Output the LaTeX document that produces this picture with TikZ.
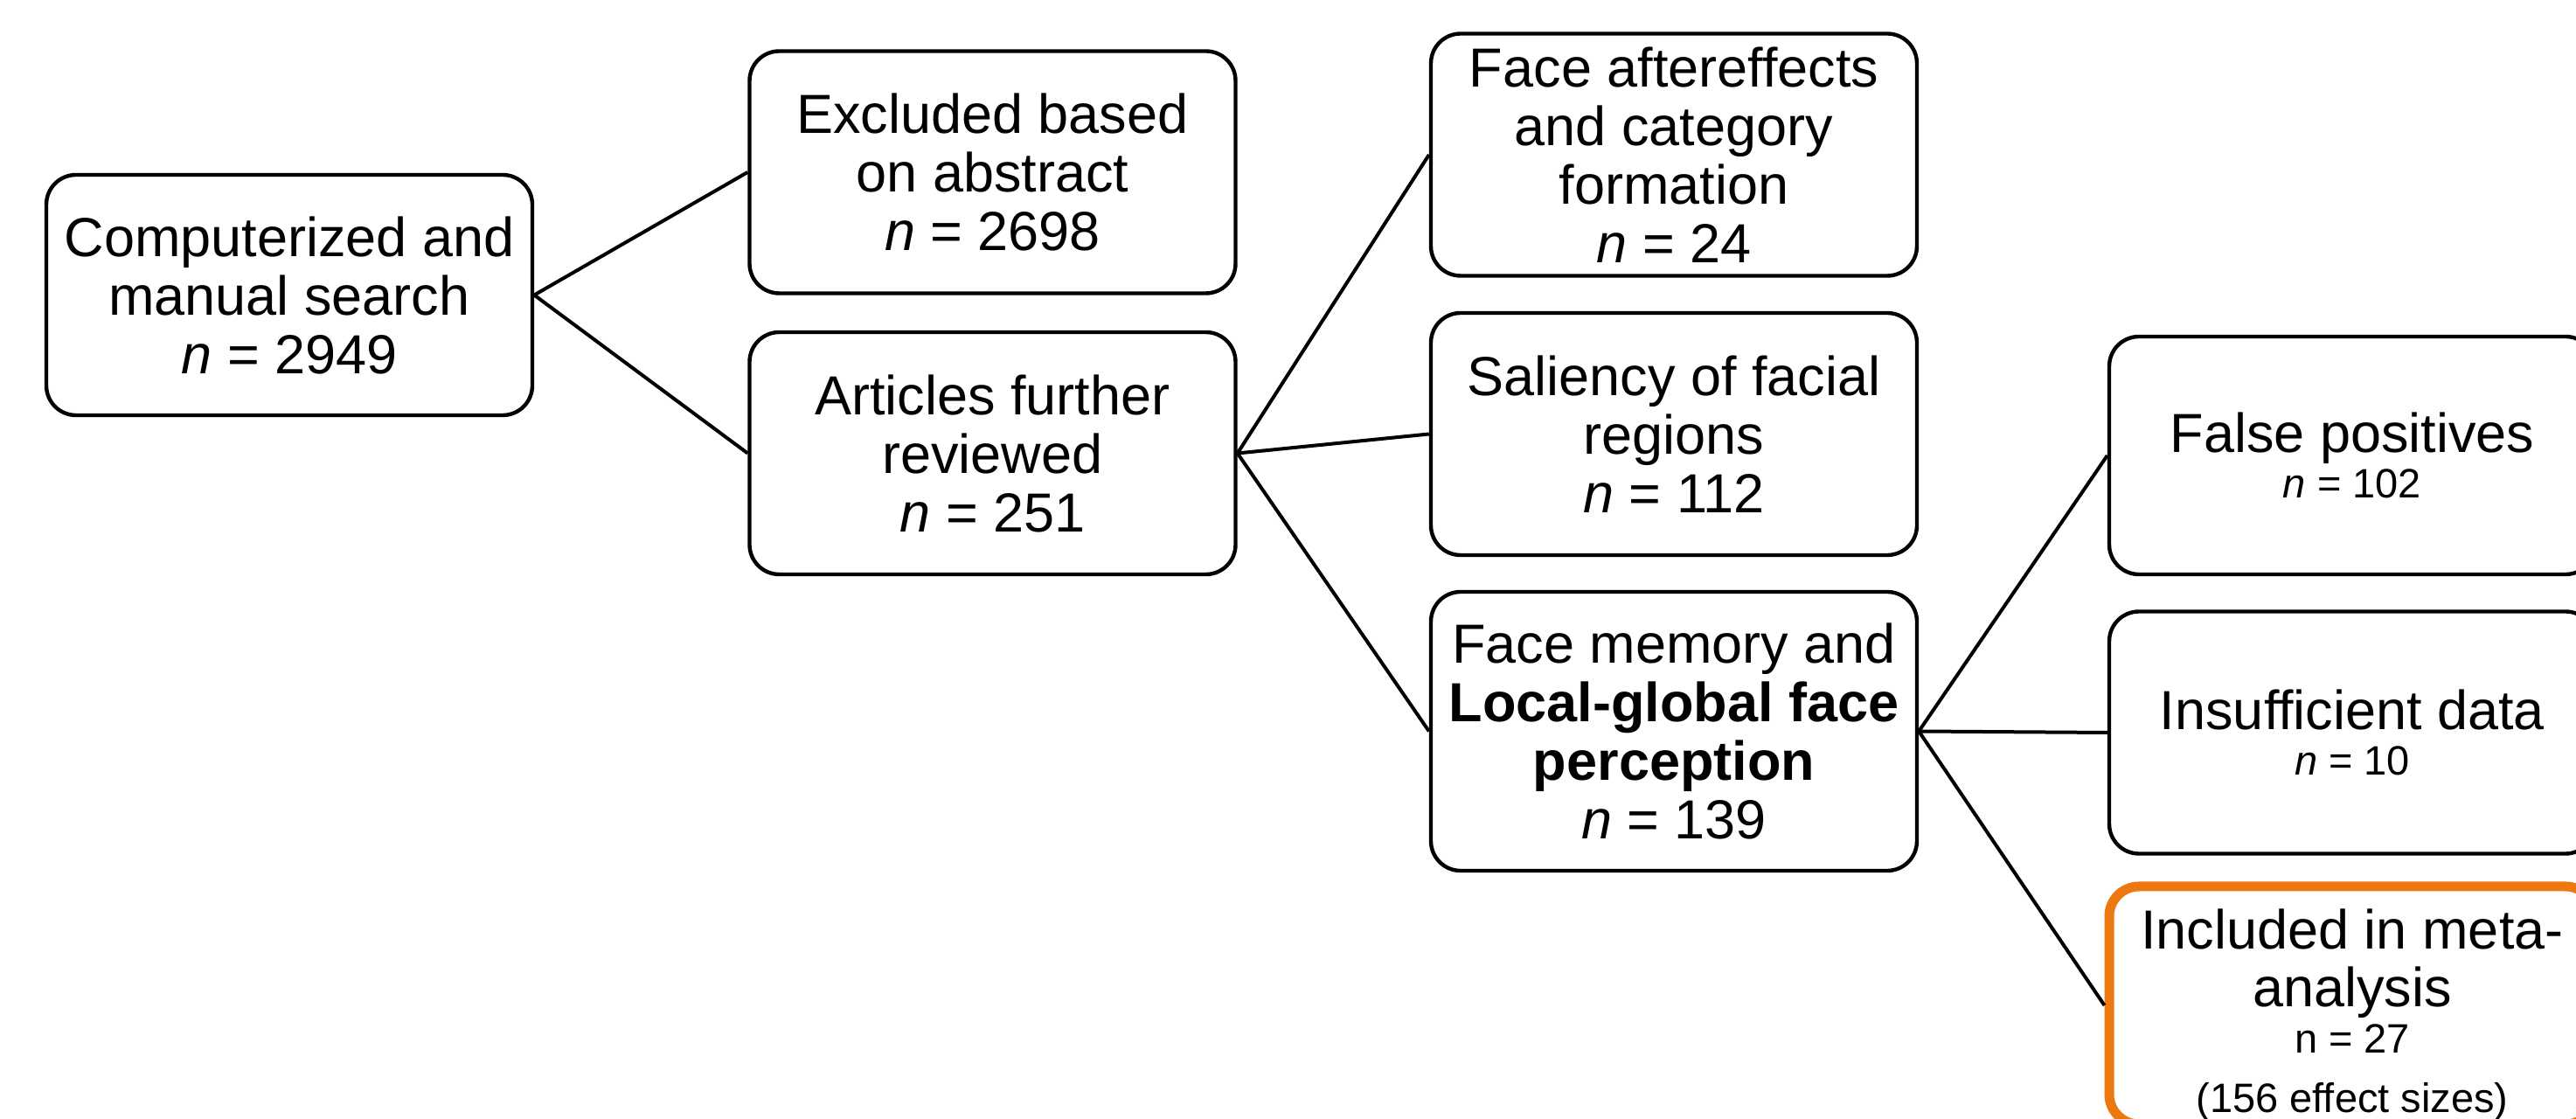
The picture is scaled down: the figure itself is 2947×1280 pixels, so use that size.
\documentclass[tikz,border=0pt]{standalone}
\usepackage{fontspec}
\setmainfont{Liberation Sans}
\definecolor{incl}{RGB}{236,120,15}
\newcommand{\bigf}{\fontsize{15.75}{16.75}\selectfont}
\newcommand{\smallf}{\fontsize{11.75}{13}\selectfont}
\begin{document}
\begin{tikzpicture}[x=0.25pt,y=-0.25pt,
  box/.style={draw=black, line width=1.1pt, rounded corners=8.5pt,
    minimum width=139pt, minimum height=69.25pt, align=center,
    inner sep=0pt, font=\bigf, fill=white},
  tallbox/.style={box, minimum height=79.75pt},
  inclbox/.style={box, draw=incl, line width=2.75pt},
  conn/.style={draw=black, line width=1pt}]
\useasboundingbox (0,0) rectangle (2947,1280);
\clip (0,0) rectangle (2947,1280);
\fill[white] (0,0) rectangle (2947,1280);

\node[box, minimum height=68.75pt] (A) at (331,337.5) {Computerized and\\manual search\\\textit{n} = 2949};
\node[box] (Ex) at (1135.5,197) {Excluded based\\on abstract\\\textit{n} = 2698};
\node[box] (Ar) at (1135.5,518.5) {Articles further\\reviewed\\\textit{n} = 251};
\node[box] (FA) at (1915,177) {Face aftereffects\\and category\\formation\\\textit{n} = 24};
\node[box] (Sa) at (1915,496.5) {Saliency of facial\\regions\\\textit{n} = 112};
\node[tallbox] (FM) at (1915,836.5) {Face memory and\\\textbf{Local-global face}\\\textbf{perception}\\\textit{n} = 139};
\node[box, minimum height=68pt] (FP) at (2691,521) {False positives\\[-3.75pt]{\smallf\textit{n} = 102}};
\node[box] (IN) at (2691,838) {Insufficient data\\[-3.75pt]{\smallf\textit{n} = 10}};
\node[inclbox, minimum height=68pt] (IC) at (2691,1150) {\rule{0pt}{17pt}Included in meta-\\[-0.25pt]analysis\\[-3.5pt]{\smallf n = 27}\\[0.25pt]{\smallf (156 effect sizes)}};

\draw[conn] (A.east) -- (Ex.west);
\draw[conn] (A.east) -- (Ar.west);
\draw[conn] (Ar.east) -- (FA.west);
\draw[conn] (Ar.east) -- (Sa.west);
\draw[conn] (Ar.east) -- (FM.west);
\draw[conn] (FM.east) -- (FP.west);
\draw[conn] (FM.east) -- (IN.west);
\draw[conn] (FM.east) -- (IC.west);
\end{tikzpicture}
\end{document}
